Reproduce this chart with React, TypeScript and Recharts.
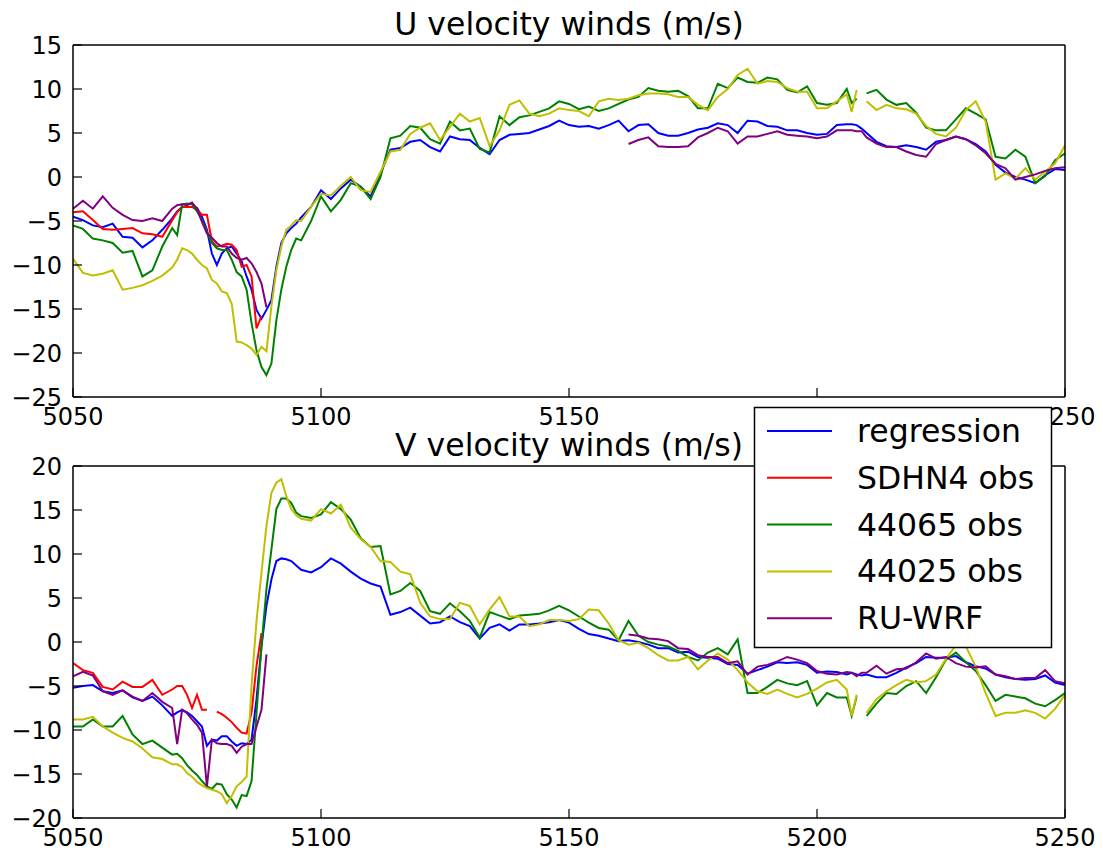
import React from 'react';
import { LineChart, Line, XAxis, YAxis } from 'recharts';

const FONT = '"DejaVu Sans", "Bitstream Vera Sans", sans-serif';
const N = null;

// x grid (time index)
const X = [
  5050, 5052, 5054, 5056, 5058, 5060, 5062, 5064, 5066, 5068, 5070,
  5071, 5072, 5073, 5074, 5075, 5076, 5077, 5078, 5079, 5080, 5081, 5082, 5083, 5084, 5085, 5086, 5087, 5088, 5089, 5090, 5091, 5092, 5093, 5094, 5095,
  5096, 5098, 5100, 5102, 5104, 5106, 5108, 5110, 5112, 5114, 5116, 5118, 5120, 5122,
  5124, 5126, 5128, 5130, 5132, 5134, 5136, 5138, 5140, 5142, 5144, 5146, 5148, 5150,
  5152, 5154, 5156, 5158, 5160, 5162, 5164, 5166, 5168, 5170, 5172, 5174, 5176, 5178,
  5180, 5182, 5184, 5186, 5188, 5190, 5192, 5194, 5196, 5198, 5200, 5202, 5204, 5206,
  5207, 5208, 5209,
  5210, 5212, 5214, 5216, 5218, 5220, 5222, 5224, 5226, 5228, 5230, 5232, 5234, 5236, 5238, 5240, 5242, 5244, 5246, 5248, 5250,
];

const X_TICKS = [5050, 5100, 5150, 5200, 5250];
const U_TICKS = [-25, -20, -15, -10, -5, 0, 5, 10, 15];
const V_TICKS = [-20, -15, -10, -5, 0, 5, 10, 15, 20];

// ---------- U velocity ----------
const uReg = [
  -4.5, -4.9, -5.5, -5.7, -5.3, -6.8, -6.9, -8.0, -7.2, -6.0, -4.7,
  -3.9, -3.4, -3.4, -3.4, -3.5, -4.5, -6.0, -8.7, -10.0, -8.7, -8.1, -7.9, -8.7, -9.6, -11.3, -12.8, -15.1, -16.1, -15.1, -14.0, -10.2, -7.5, -6.4, -5.8, -5.3,
  -4.6, -3.4, -1.5, -2.5, -1.3, -0.3, -1.1, -2.2, 0.4, 3.1, 3.3, 4.0, 4.2, 3.4,
  2.9, 4.6, 4.3, 4.2, 3.3, 2.6, 4.2, 4.8, 4.9, 5.0, 5.4, 5.8, 6.4, 5.9,
  5.7, 5.8, 5.5, 5.9, 6.4, 5.2, 5.9, 6.0, 5.0, 4.7, 4.7, 5.0, 5.4, 5.6,
  6.1, 5.9, 5.0, 6.4, 6.3, 5.8, 5.7, 5.3, 5.3, 5.0, 4.8, 4.9, 5.9, 6.0,
  6.0, 5.9, 5.5,
  5.0, 4.0, 3.5, 3.4, 3.6, 3.4, 3.1, 4.0, 4.2, 4.6, 4.3, 3.75, 2.9, 1.4, 0.5, 0.0, -0.3, -0.7, 0.2, 0.9, 0.8,
];

const uSdhn = [
  -4.0, -3.9, -4.9, -5.9, -6.0, -5.9, -5.8, -6.4, -6.5, -6.8, -4.9,
  -4.0, -3.4, -3.4, -3.4, -3.75, -4.3, -4.3, -7.3, -7.9, -7.8, -7.6, -7.7, -8.3, -10.2, -10.0, -11.3, -17.2, -15.8, N, N, N, N, N, N, N,
  N, N, N, N, N, N, N, N, N, N, N, N, N, N,
  N, N, N, N, N, N, N, N, N, N, N, N, N, N,
  N, N, N, N, N, N, N, N, N, N, N, N, N, N,
  N, N, N, N, N, N, N, N, N, N, N, N, N, N,
  N, N, N,
  N, N, N, N, N, N, N, N, N, N, N, N, N, N, N, N, N, N, N, N, N,
];

const u65 = [
  -5.5, -5.9, -7.0, -7.2, -7.5, -8.6, -8.4, -11.3, -10.6, -7.9, -5.8,
  -6.6, -3.1, -3.0, -3.1, -3.9, -4.9, -6.2, -7.5, -8.1, -8.3, -8.3, -9.4, -10.8, -11.3, -12.8, -16.6, -19.7, -21.6, -22.5, -21.2, -16.3, -12.8, -10.2, -8.3, -7.0,
  -7.2, -5.0, -2.2, -3.9, -2.6, -0.7, -1.1, -2.5, 0.0, 4.4, 4.7, 5.8, 5.6, 4.3,
  3.8, 6.3, 5.3, 5.5, 3.2, 2.8, 6.9, 5.9, 6.8, 7.0, 7.4, 7.8, 8.6, 8.3,
  7.7, 8.0, 7.5, 7.8, 8.3, 8.8, 9.1, 10.1, 9.8, 9.7, 9.8, 9.2, 7.8, 7.8,
  10.6, 10.1, 11.3, 10.8, 10.7, 11.3, 11.1, 9.9, 9.6, 10.3, 8.4, 8.2, 8.4, 10.0,
  8.4, 8.9, N,
  9.5, 9.9, 8.8, 8.2, 8.4, 7.3, 5.6, 5.3, 5.3, 6.55, 7.8, 7.2, 6.55, 2.3, 2.1, 3.1, 2.3, -0.7, 0.1, 1.9, 2.7,
];

const u25 = [
  -9.3, -10.9, -11.2, -11.0, -10.6, -12.8, -12.6, -12.3, -11.8, -11.2, -10.3,
  -9.4, -8.1, -8.3, -8.7, -9.4, -10.0, -10.4, -11.7, -12.1, -13.0, -13.2, -14.4, -18.7, -18.8, -19.1, -19.5, -20.2, -19.3, -19.8, -14.7, -10.6, -7.9, -6.0, -5.5, -4.9,
  -5.0, -3.4, -1.9, -2.1, -1.0, 0.0, -1.5, -1.7, 0.6, 2.9, 3.1, 4.9, 5.6, 6.1,
  4.2, 5.7, 7.2, 6.3, 6.7, 3.5, 5.3, 8.2, 8.7, 7.2, 6.9, 7.2, 7.8, 7.6,
  7.5, 6.9, 8.6, 8.9, 8.75, 8.9, 9.3, 9.5, 9.5, 9.4, 9.1, 9.1, 8.2, 7.6,
  9.1, 10.0, 11.6, 12.3, 10.6, 10.9, 10.8, 10.1, 9.7, 9.7, 7.8, 7.8, 8.6, 9.4,
  7.4, 9.9, N,
  8.6, 7.6, 8.2, 7.8, 7.7, 7.2, 5.8, 4.9, 4.6, 5.6, 7.6, 8.6, 6.3, -0.3, 0.4, -0.2, 1.0, -0.3, 0.6, 1.55, 3.6,
];

const uWrf = [
  -3.6, -2.7, -3.6, -2.2, -3.5, -4.3, -4.9, -5.0, -4.7, -5.0, -3.6,
  -3.2, -3.1, -3.2, -2.9, -3.6, -5.1, -6.4, -6.9, -7.5, -7.9, -7.9, -8.7, -9.2, -9.4, -9.2, -9.8, -10.8, -12.1, -14.8, N, N, N, N, N, N,
  N, N, N, N, N, N, N, N, N, N, N, N, N, N,
  N, N, N, N, N, N, N, N, N, N, N, N, N, N,
  N, N, N, N, N, 3.75, 4.2, 4.5, 3.5, 3.4, 3.4, 3.5, 4.5, 5.0,
  5.6, 5.2, 3.8, 4.6, 4.6, 4.9, 5.2, 4.8, 4.7, 4.6, 4.4, 4.6, 5.3, 5.3,
  5.3, 5.2, 5.2,
  4.5, 3.8, 3.4, 3.4, 2.9, 2.5, 2.3, 3.75, 4.2, 4.6, 4.3, 3.6, 2.7, 1.5, 1.0, -0.3, 0.0, 0.3, 0.7, 1.0, 1.1,
];

// ---------- V velocity ----------
const vReg = [
  -5.2, -5.0, -4.9, -5.6, -5.8, -5.5, -6.3, -6.7, -6.2, -7.2, -8.4,
  -8.0, -7.7, -8.0, -8.4, -9.0, -9.6, -11.8, -11.1, -11.2, -10.7, -10.7, -11.3, -11.8, -11.5, -11.6, -11.1, -6.5, -0.5, 4.1, 7.1, 9.2, 9.5, 9.4, 9.2, 8.7,
  8.2, 7.9, 8.5, 9.5, 8.9, 8.0, 7.2, 6.65, 6.3, 3.1, 3.4, 3.9, 3.0, 2.1,
  2.25, 2.9, 2.25, 1.8, 0.4, 1.6, 2.0, 1.3, 2.0, 2.0, 2.1, 2.25, 2.5, 2.2,
  1.5, 0.9, 0.7, 0.4, 0.1, 0.2, 0.0, -0.3, -0.7, -0.7, -1.2, -1.1, -1.7, -1.8,
  -1.9, -2.5, -2.6, -3.6, -3.2, -2.8, -2.3, -2.4, -2.3, -2.6, -3.5, -3.35, -3.4, -3.7,
  -3.5, -3.7, -3.8,
  -3.7, -4.0, -4.0, -3.5, -2.9, -2.4, -1.7, -1.8, -1.8, -1.6, -2.3, -2.75, -3.0, -3.7, -4.0, -4.2, -4.3, -4.2, -3.8, -4.6, -4.9,
];

const vSdhn = [
  -2.4, -3.2, -3.5, -5.1, -5.4, -4.5, -5.1, -5.1, -4.3, -6.0, -5.4,
  -5.0, -5.0, -6.0, -7.5, -6.0, -7.7, -7.7, N, -7.9, -8.2, -8.6, -9.1, -9.75, -10.3, -10.4, -8.0, -2.7, 1.0, N, N, N, N, N, N, N,
  N, N, N, N, N, N, N, N, N, N, N, N, N, N,
  N, N, N, N, N, N, N, N, N, N, N, N, N, N,
  N, N, N, N, N, N, N, N, N, N, N, N, N, N,
  N, N, N, N, N, N, N, N, N, N, N, N, N, N,
  N, N, N,
  N, N, N, N, N, N, N, N, N, N, N, N, N, N, N, N, N, N, N, N, N,
];

const v65 = [
  -9.6, -9.6, -8.8, -9.6, -9.6, -8.4, -10.5, -11.6, -11.2, -12.0, -12.8,
  -12.7, -13.2, -14.0, -14.6, -15.1, -15.8, -16.4, -16.7, -16.1, -16.2, -17.3, -17.9, -18.8, -17.4, -17.5, -15.8, -8.1, -0.5, 6.0, 10.5, 15.1, 16.3, 16.3, 15.8, 14.7,
  14.3, 14.1, 14.5, 15.9, 15.1, 13.9, 11.8, 10.8, 10.9, 5.4, 5.8, 6.7, 5.8, 3.5,
  3.2, 4.4, 3.5, 2.4, 0.5, 3.4, 3.0, 2.6, 3.0, 3.1, 3.2, 3.6, 4.1, 3.6,
  2.9, 2.2, 1.6, 1.4, 0.2, 2.4, 0.7, 0.0, -0.3, -0.5, -1.0, -1.7, -2.1, -1.2,
  -0.7, -1.4, 0.3, -5.8, -5.8, -5.1, -4.3, -4.7, -4.9, -4.45, -7.2, -5.8, -6.3, -6.3,
  -8.4, -6.2, N,
  -8.4, -7.0, -5.8, -5.9, -5.0, -4.45, -5.8, -4.0, -2.0, -1.2, -2.3, -3.3, -4.9, -6.7, -6.0, -6.2, -6.4, -7.0, -7.3, -6.6, -5.8,
];

const v25 = [
  -8.8, -8.8, -8.5, -9.6, -10.3, -10.9, -11.3, -12.1, -13.1, -13.3, -13.9,
  -13.9, -14.2, -14.9, -15.3, -15.9, -16.3, -16.6, -16.8, -16.95, -17.3, -18.3, -17.5, -16.4, -15.9, -15.3, -4.9, 2.4, 7.9, 13.2, 16.95, 18.1, 18.5, 16.6, 15.1, 14.4,
  14.0, 13.8, 15.1, 14.6, 15.6, 13.0, 11.7, 10.8, 9.2, 9.1, 8.0, 7.7, 4.45, 2.9,
  2.6, 2.6, 4.45, 4.1, 2.0, 3.7, 5.1, 2.9, 2.9, 1.8, 2.0, 2.5, 2.5, 2.4,
  2.6, 3.7, 3.6, 2.1, 0.2, -0.3, -0.1, -0.7, -1.5, -2.1, -2.1, -1.7, -3.1, -2.1,
  -1.3, -2.0, -3.2, -4.6, -5.6, -5.9, -5.4, -5.9, -6.3, -5.9, -5.3, -4.6, -4.3, -5.4,
  -8.4, -6.0, N,
  -8.05, -6.5, -5.6, -4.9, -4.3, -4.6, -4.45, -3.7, -1.9, -0.4, -0.5, -2.8, -5.8, -8.4, -8.05, -8.05, -7.75, -8.05, -8.7, -7.6, -6.0,
];

const vWrf = [
  -3.9, -3.4, -3.8, -5.6, -6.0, -5.5, -6.2, -6.7, -5.8, -6.8, -7.5,
  -11.6, -7.7, -8.1, -8.8, -9.4, -10.3, -16.4, -11.1, -11.5, -11.6, -11.6, -11.8, -12.6, -11.9, -11.6, -11.6, -9.6, -7.7, -1.4, N, N, N, N, N, N,
  N, N, N, N, N, N, N, N, N, N, N, N, N, N,
  N, N, N, N, N, N, N, N, N, N, N, N, N, N,
  N, N, N, N, N, 0.85, 0.7, 0.4, 0.3, 0.1, -0.7, -0.8, -1.5, -1.7,
  -1.7, -2.4, -2.2, -3.7, -2.8, -2.6, -2.2, -1.7, -2.0, -2.4, -3.3, -3.6, -3.7, -3.4,
  -3.5, -3.9, -3.5,
  -3.5, -2.7, -3.6, -3.1, -3.0, -2.3, -1.3, -1.9, -1.7, -2.4, -2.8, -2.9, -2.75, -3.7, -3.9, -4.2, -4.1, -4.1, -3.2, -4.45, -4.7,
];

const SERIES = [
  { key: 'reg', name: 'regression', color: '#0000ff' },
  { key: 'sdhn4', name: 'SDHN4 obs', color: '#ff0000' },
  { key: 'b65', name: '44065 obs', color: '#008000' },
  { key: 'b25', name: '44025 obs', color: '#bfbf00' },
  { key: 'wrf', name: 'RU-WRF', color: '#800080' },
];

function buildRows(cols: Record<string, (number | null)[]>) {
  return X.map((x, i) => {
    const r: any = { x };
    for (const k of Object.keys(cols)) r[k] = cols[k][i];
    return r;
  });
}

const uRows = buildRows({ reg: uReg, sdhn4: uSdhn, b65: u65, b25: u25, wrf: uWrf });
const vRows = buildRows({ reg: vReg, sdhn4: vSdhn, b65: v65, b25: v25, wrf: vWrf });

const fmt = (v: number) => String(v).replace('-', '\u2212');

const tickStyle = { fill: '#000', fontSize: 24, fontFamily: FONT };
const axisLine = { stroke: '#000', strokeWidth: 1.5 };
const tickLine = { stroke: '#000', strokeWidth: 1.2 };

function Panel({ rows, yDomain, yTicks, height, xAxisHeight }: any) {
  return (
    <LineChart width={1103} height={height} data={rows} margin={{ top: 44, right: 37, bottom: 0, left: 0 }}>
      <XAxis
        xAxisId="x"
        dataKey="x"
        type="number"
        domain={[5050, 5250]}
        ticks={X_TICKS}
        interval={0}
        allowDataOverflow
        orientation="bottom"
        height={xAxisHeight}
        tickSize={-9}
        tickMargin={20}
        tick={tickStyle}
        axisLine={axisLine}
        tickLine={tickLine}
      />
      <XAxis
        xAxisId="xt"
        dataKey="x"
        type="number"
        domain={[5050, 5250]}
        ticks={X_TICKS}
        interval={0}
        allowDataOverflow
        orientation="top"
        height={1}
        tickSize={-9}
        tick={false}
        axisLine={axisLine}
        tickLine={tickLine}
      />
      <YAxis
        yAxisId="y"
        type="number"
        domain={yDomain}
        ticks={yTicks}
        interval={0}
        allowDataOverflow
        width={73}
        tickSize={-9}
        tickMargin={20}
        tickFormatter={fmt}
        tick={tickStyle}
        axisLine={axisLine}
        tickLine={tickLine}
      />
      <YAxis
        yAxisId="yr"
        orientation="right"
        type="number"
        domain={yDomain}
        ticks={yTicks}
        interval={0}
        allowDataOverflow
        width={1}
        tickSize={-9}
        tick={false}
        axisLine={axisLine}
        tickLine={tickLine}
      />
      {SERIES.map((s) => (
        <Line
          key={s.key}
          xAxisId="x"
          yAxisId="y"
          type="linear"
          dataKey={s.key}
          name={s.name}
          stroke={s.color}
          strokeWidth={2}
          dot={false}
          activeDot={false}
          connectNulls={false}
          isAnimationActive={false}
        />
      ))}
    </LineChart>
  );
}

export default function App() {
  const legendX = 754;
  const legendY = 407;
  return (
    <div style={{ position: 'absolute', left: 0, top: 0, width: 1103, height: 852, overflow: 'hidden', background: '#fff' }}>
      <div style={{ position: 'absolute', left: 0, top: 0 }}>
        <Panel rows={uRows} yDomain={[-25, 15]} yTicks={U_TICKS} height={437} xAxisHeight={40} />
      </div>
      <div style={{ position: 'absolute', left: 0, top: 421 }}>
        <Panel rows={vRows} yDomain={[-20, 20]} yTicks={V_TICKS} height={431} xAxisHeight={34} />
      </div>
      <svg
        width={1103}
        height={852}
        style={{ position: 'absolute', left: 0, top: 0, pointerEvents: 'none' }}
      >
        <text x={569} y={35} textAnchor="middle" fontFamily={FONT} fontSize={31.5} fill="#000">
          U velocity winds (m/s)
        </text>
        <text x={569} y={456} textAnchor="middle" fontFamily={FONT} fontSize={31.5} fill="#000">
          V velocity winds (m/s)
        </text>
        <rect x={legendX + 0.5} y={legendY + 0.5} width={297} height={240} fill="#fff" stroke="#000" strokeWidth={1.5} />
        {SERIES.map((s, i) => {
          const cy = legendY + 24 + i * 46.8;
          return (
            <g key={s.key}>
              <line x1={legendX + 13} x2={legendX + 78} y1={cy} y2={cy} stroke={s.color} strokeWidth={2} />
              <text x={legendX + 103} y={cy + 11} fontFamily={FONT} fontSize={31.5} fill="#000">
                {s.name}
              </text>
            </g>
          );
        })}
      </svg>
    </div>
  );
}
